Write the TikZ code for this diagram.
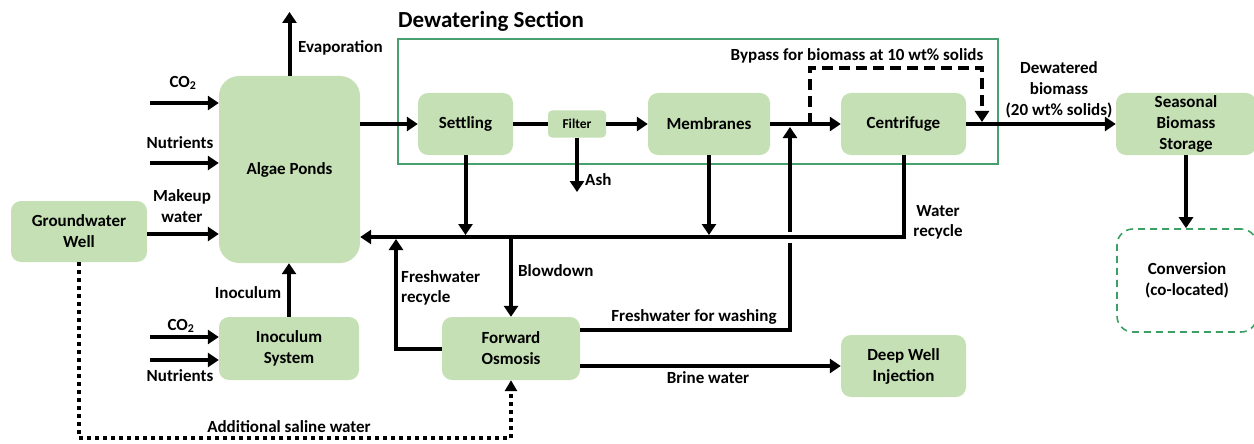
\documentclass[tikz,border=0pt]{standalone}
\usepackage{fontspec}
\setmainfont{Carlito}
\usetikzlibrary{arrows.meta}
\definecolor{boxgreen}{HTML}{C5E0B4}
\definecolor{framegreen}{RGB}{72,160,110}
\definecolor{dashgreen}{RGB}{60,160,100}
\tikzset{
  lbl/.style={font=\fontsize{17}{20}\selectfont\bfseries, align=center, inner sep=0pt},
  box/.style={fill=boxgreen, rounded corners=10pt, font=\fontsize{17}{21}\selectfont\bfseries, align=center, inner sep=0pt},
  flow/.style={line width=4pt},
  arr/.style={line width=4pt, -{Triangle[length=11pt,width=14pt]}},
  bypassarr/.style={line width=4pt, dash pattern=on 11pt off 6pt, -{Triangle[length=11pt,width=14pt]}},
  dotarr/.style={line width=3.6pt, dash pattern=on 3.5pt off 4.5pt, -{Triangle[length=11pt,width=12pt]}},
}
\begin{document}
\begin{tikzpicture}[x=1pt,y=-1pt]
\useasboundingbox (0,0) rectangle (1254,444);
% dewatering frame
\node[draw=framegreen, line width=1.6pt, minimum width=600pt, minimum height=125pt, inner sep=0pt] (dew) at (698,101.5) {};
\node[anchor=west, font=\fontsize{23}{25}\selectfont\bfseries, inner sep=0pt] (dewtitle) at (398,21) {Dewatering Section};
% nodes
\node[box, minimum width=136pt, minimum height=61pt] (gw) at (79,231.5) {Groundwater\\Well};
\node[box, rounded corners=20pt, minimum width=141pt, minimum height=187pt] (ponds) at (289.5,169.5) {Algae Ponds};
\node[box, minimum width=95pt, minimum height=62pt] (settling) at (465.5,124) {Settling};
\node[box, rounded corners=4pt, minimum width=58pt, minimum height=27pt, font=\fontsize{13.5}{15}\selectfont\bfseries] (filter) at (577,124) {Filter};
\node[box, minimum width=122pt, minimum height=62pt] (membranes) at (709,124) {Membranes};
\node[box, minimum width=125pt, minimum height=62pt] (centrifuge) at (903.5,124) {Centrifuge};
\node[box, minimum width=140pt, minimum height=62pt] (storage) at (1186,124) {Seasonal\\Biomass\\Storage};
\node[draw=dashgreen, line width=1.6pt, dash pattern=on 7pt off 5pt, rounded corners=16pt, minimum width=140pt, minimum height=103pt, font=\fontsize{17}{21}\selectfont\bfseries, align=center, inner sep=0pt] (conv) at (1187,280.5) {Conversion\\(co-located)};
\node[box, minimum width=140pt, minimum height=63pt] (inoc) at (289,348.5) {Inoculum\\System};
\node[box, minimum width=138pt, minimum height=63pt] (fo) at (511,348.5) {Forward\\Osmosis};
\node[box, minimum width=125pt, minimum height=62pt] (dwi) at (903.5,366) {Deep Well\\Injection};
% free-end coordinates
\coordinate (evap) at (289.5,12);
\coordinate (co2a) at (150,103);
\coordinate (nuta) at (150,163);
\coordinate (mk) at (147,234);
\coordinate (co2b) at (150,337);
\coordinate (nutb) at (150,360);
\coordinate (ash) at (577,192);
\coordinate (rc) at (905,237);
\coordinate (fwr) at (396,239);
\coordinate (washst) at (580,330);
\coordinate (washtip) at (790,127);
\coordinate (bp1) at (810,124);
\coordinate (bp2) at (982,68);
\coordinate (bp3) at (982,122);
\coordinate (dcorner) at (511,438);
\coordinate (rtip) at (0,235);
% feed arrows
\draw[arr] (ponds.north) -- (evap);
\draw[arr] (co2a) -- (ponds.west |- co2a);
\draw[arr] (nuta) -- (ponds.west |- nuta);
\draw[arr] (mk) -- (ponds.west |- mk);
\draw[arr] (co2b) -- (inoc.west |- co2b);
\draw[arr] (nutb) -- (inoc.west |- nutb);
\draw[arr] (inoc.north) -- (inoc.north |- ponds.south);
% main line
\draw[arr] (ponds.east |- settling.west) -- (settling.west);
\draw[flow] (settling.east) -- (filter.west);
\draw[arr] (filter.east) -- (membranes.west);
\draw[arr] (filter.south) -- (ash);
\draw[arr] (membranes.east) -- (centrifuge.west);
\draw[bypassarr] (bp1) |- (bp2) -- (bp3);
\draw[arr] (centrifuge.east) -- (storage.west);
\draw[arr] (storage.south) -- (storage.south |- conv.north);
% washing water
\draw[arr] (washst) -| (washtip);
\draw[white, line width=6pt] (790,231.5) -- (790,242.5);
% recycle
\draw[arr] (centrifuge.south) |- (ponds.east |- rc);
\draw[arr] (settling.south) -- (settling.south |- rtip);
\draw[arr] (membranes.south) -- (membranes.south |- rtip);
\draw[arr] (fo.north |- rc) -- (fo.north);
\draw[arr] (fo.west) -| (fwr);
\draw[arr] (fo.east |- dwi.west) -- (dwi.west);
\draw[dotarr] (gw.south) |- (dcorner) -- (fo.south);
% labels
\node[lbl, anchor=west] (levap) at (298,48) {Evaporation};
\node[lbl] (lco2a) at (183,83) {CO\textsubscript{2}};
\node[lbl] (lnuta) at (180,143) {Nutrients};
\node[lbl, font=\fontsize{17}{21}\selectfont\bfseries] (lmake) at (182,206) {Makeup\\water};
\node[lbl] (linoc) at (248,293) {Inoculum};
\node[lbl] (lco2b) at (181,326) {CO\textsubscript{2}};
\node[lbl] (lnutb) at (180,376) {Nutrients};
\node[lbl, anchor=west] (lash) at (585,180) {Ash};
\node[lbl] (lbyp) at (857,56) {Bypass for biomass at 10 wt\% solids};
\node[lbl, font=\fontsize{17}{21}\selectfont\bfseries] (ldew) at (1059,90) {Dewatered\\biomass\\(20 wt\% solids)};
\node[lbl, font=\fontsize{17}{20}\selectfont\bfseries] (lwr) at (938,222) {Water\\recycle};
\node[lbl, anchor=west] (lblow) at (518,271) {Blowdown};
\node[lbl, anchor=west, align=left, font=\fontsize{17}{20}\selectfont\bfseries] (lfwr) at (401,288) {Freshwater\\recycle};
\node[lbl] (lwash) at (694,317) {Freshwater for washing};
\node[lbl] (lbrine) at (708,378) {Brine water};
\node[lbl] (lsaline) at (289,427) {Additional saline water};
\end{tikzpicture}
\end{document}
